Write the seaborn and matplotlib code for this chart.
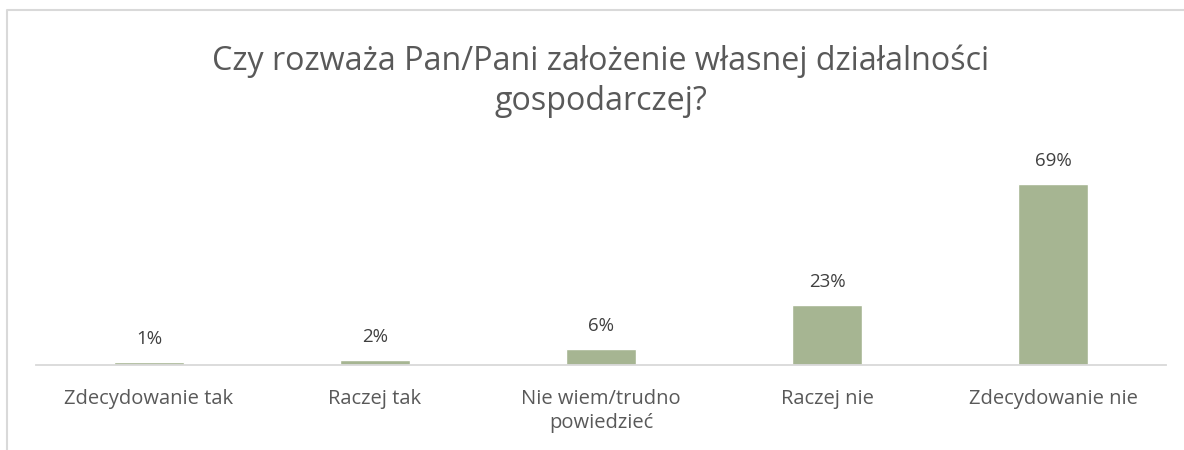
import matplotlib
matplotlib.use("Agg")
import matplotlib.pyplot as plt
import seaborn as sns
import pandas as pd
from matplotlib.lines import Line2D

categories = ["Zdecydowanie tak", "Raczej tak", "Nie wiem/trudno\npowiedzieć", "Raczej nie", "Zdecydowanie nie"]
values = [1, 2, 6, 23, 69]
value_labels = ["1%", "2%", "6%", "23%", "69%"]
title = "Czy rozważa Pan/Pani założenie własnej działalności\ngospodarczej?"

sns.set_theme(style="white")
plt.rcParams["font.family"] = ["Open Sans", "DejaVu Sans"]

W, H = 1184, 450
fig = plt.figure(figsize=(W / 100, H / 100), dpi=100)
ax = fig.add_axes([36 / W, (H - 365) / H, (1166 - 36) / W, 210 / H])

df = pd.DataFrame({"cat": categories, "val": values})
sns.barplot(data=df, x="cat", y="val", color="#A6B592", saturation=1, width=0.314, ax=ax)
ax.set_ylim(0, 80)
ax.set_xlim(-0.5, len(categories) - 0.5)

for i, (v, lab) in enumerate(zip(values, value_labels)):
    ax.annotate(lab, (i, v), xytext=(0, 14), textcoords="offset pixels",
                ha="center", va="bottom", fontsize=13.5, color="#404040")

ax.set_xlabel("")
ax.set_ylabel("")
ax.set_yticks([])
ax.tick_params(axis="x", length=0, pad=17, labelsize=14.5, labelcolor="#595959")
for t in ax.get_xticklabels():
    t.set_linespacing(1.3)
for s in ["top", "right", "left"]:
    ax.spines[s].set_visible(False)
ax.spines["bottom"].set_color("#D9D9D9")
ax.spines["bottom"].set_linewidth(1.3)

fig.text(601 / W, 1 - 44 / H, title, ha="center", va="top", fontsize=23.2,
         color="#595959", linespacing=1.3)

fig.add_artist(Line2D([7 / W, 7 / W, 1.0], [0, 1 - 9.5 / H, 1 - 9.5 / H],
                      transform=fig.transFigure, color="#D9D9D9", lw=1.5))

fig.savefig("out.png", dpi=100)
